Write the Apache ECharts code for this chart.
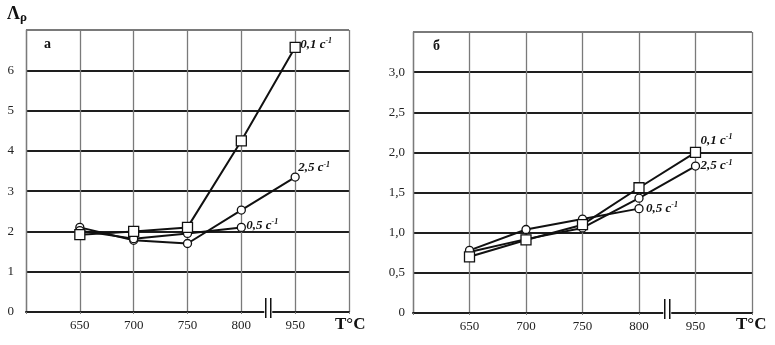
<!DOCTYPE html>
<html>
<head>
<meta charset="utf-8">
<script src="https://cdn.jsdelivr.net/npm/echarts@6/dist/echarts.min.js"></script>
<style>
  html, body { margin: 0; padding: 0; background: #fff; }
  #chart { width: 775px; height: 345px; }
</style>
</head>
<body>
<div id="chart"></div>
<script>
// температуры (по оси X), крайние пустые – поля графика
var temps = ['', '650', '700', '750', '800', '950', ''];

// а) Λρ
var a_01 = [1.92, 2.0, 2.1, 4.25, 6.57];
var a_25 = [2.1, 1.78, 1.7, 2.53, 3.35];
var a_05 = [2.02, 1.82, 1.95, 2.1];

// б) Λρ
var b_01 = [0.7, 0.91, 1.1, 1.56, 2.0];
var b_25 = [0.76, 0.92, 1.06, 1.43, 1.83];
var b_05 = [0.78, 1.04, 1.17, 1.3];

var rateNames = ['0,1', '2,5', '0,5'];

var FONT = 'Liberation Serif';
var dark = '#1e1e1e', grey = '#7a7a7a';

var chart = echarts.init(document.getElementById('chart'));

function pad(arr) { return [null].concat(arr); }

function xAxisCfg(gi) {
    return {
        gridIndex: gi,
        type: 'category',
        boundaryGap: false,
        data: temps,
        axisLine: { lineStyle: { color: dark, width: 2 } },
        axisTick: { show: true, length: 2, lineStyle: { color: grey } },
        axisLabel: { color: '#222', fontFamily: FONT, fontSize: 13, margin: 7 },
        splitLine: { show: true, lineStyle: { color: grey, width: 1.3 } }
    };
}

function yAxisCfg(gi, max, step, fmt, margin) {
    var cols = [];
    for (var i = 0; i < Math.round(max / step); i++) cols.push(dark);
    cols.push(grey);
    return {
        gridIndex: gi,
        type: 'value',
        min: 0, max: max, interval: step,
        axisLine: { show: true, lineStyle: { color: grey, width: 1.3 } },
        axisTick: { show: false },
        axisLabel: {
            color: '#222', fontFamily: FONT, fontSize: 13, margin: margin,
            formatter: function (v) { return v >= max ? '' : fmt(v); }
        },
        splitLine: { show: true, lineStyle: { color: cols, width: 2 } }
    };
}

function lbl(rate, off) {
    return {
        show: true,
        offset: off,
        distance: 3,
        formatter: '{t|' + rate + ' с}{s|-1}',
        rich: {
            t: { fontFamily: FONT, fontStyle: 'italic', fontWeight: 'bold', fontSize: 13, color: '#111' },
            s: { fontFamily: FONT, fontStyle: 'italic', fontWeight: 'bold', fontSize: 8, color: '#111', padding: [0, 0, 7, 0] }
        }
    };
}

function ser(gi, data, sym, rate, off) {
    return {
        type: 'line',
        xAxisIndex: gi, yAxisIndex: gi,
        data: pad(data),
        symbol: sym,
        symbolSize: sym === 'rect' ? 10 : 8,
        showAllSymbol: true,
        itemStyle: { color: '#fff', borderColor: '#111', borderWidth: 1.3 },
        lineStyle: { color: '#111', width: 2 },
        endLabel: lbl(rate, off),
        animation: false,
        z: sym === 'rect' ? 4 : 3
    };
}

var option = {
    backgroundColor: '#fff',
    animation: false,
    grid: [
        { left: 26, right: 426, top: 30, bottom: 33 },
        { left: 413, right: 23, top: 32, bottom: 32 }
    ],
    xAxis: [xAxisCfg(0), xAxisCfg(1)],
    yAxis: [
        yAxisCfg(0, 7, 1, function (v) { return String(v); }, 12),
        yAxisCfg(1, 3.5, 0.5, function (v) { return v === 0 ? '0' : v.toFixed(1).replace('.', ','); }, 8)
    ],
    series: [
        ser(0, a_25, 'circle', rateNames[1], [0, -9]),
        ser(0, a_05, 'circle', rateNames[2], [2, -2]),
        ser(0, a_01, 'rect', rateNames[0], [2, -3]),
        ser(1, b_25, 'circle', rateNames[1], [2, 0]),
        ser(1, b_05, 'circle', rateNames[2], [4, 0]),
        ser(1, b_01, 'rect', rateNames[0], [2, -12])
    ]
};
chart.setOption(option);

// разрыв оси между 800 и 950, подписи
function breakMark(gi) {
    var p4 = chart.convertToPixel({ gridIndex: gi }, [4, 0]);
    var p5 = chart.convertToPixel({ gridIndex: gi }, [5, 0]);
    var x = (p4[0] + p5[0]) / 2, y = p4[1];
    return [
        { type: 'rect', shape: { x: x - 4, y: y - 10, width: 8, height: 16 }, style: { fill: '#fff' }, z: 10 },
        { type: 'line', shape: { x1: x - 2.5, y1: y - 14, x2: x - 2.5, y2: y + 6 }, style: { stroke: '#111', lineWidth: 1.5 }, z: 11 },
        { type: 'line', shape: { x1: x + 2.5, y1: y - 14, x2: x + 2.5, y2: y + 6 }, style: { stroke: '#111', lineWidth: 1.5 }, z: 11 }
    ];
}

var txt = function (x, y, s, size, extra) {
    var st = { text: s, x: x, y: y, fontFamily: FONT, fontSize: size, fontWeight: 'bold', fill: '#111' };
    for (var k in extra) st[k] = extra[k];
    return { type: 'text', style: st, z: 12 };
};

chart.setOption({
    graphic: breakMark(0).concat(breakMark(1)).concat([
        {
            type: 'text', z: 12,
            style: {
                x: 7, y: 4,
                text: '{a|Λ}{b|ρ}',
                rich: {
                    a: { fontFamily: FONT, fontSize: 18, fontWeight: 'bold', fill: '#111' },
                    b: { fontFamily: FONT, fontSize: 13, fontWeight: 'bold', fill: '#111', padding: [7, 0, 0, 0] }
                }
            }
        },
        txt(44, 37, 'а', 14),
        txt(433, 39, 'б', 14),
        txt(335, 316, 'T°C', 17),
        txt(736, 316, 'T°C', 17)
    ])
});
</script>
</body>
</html>
